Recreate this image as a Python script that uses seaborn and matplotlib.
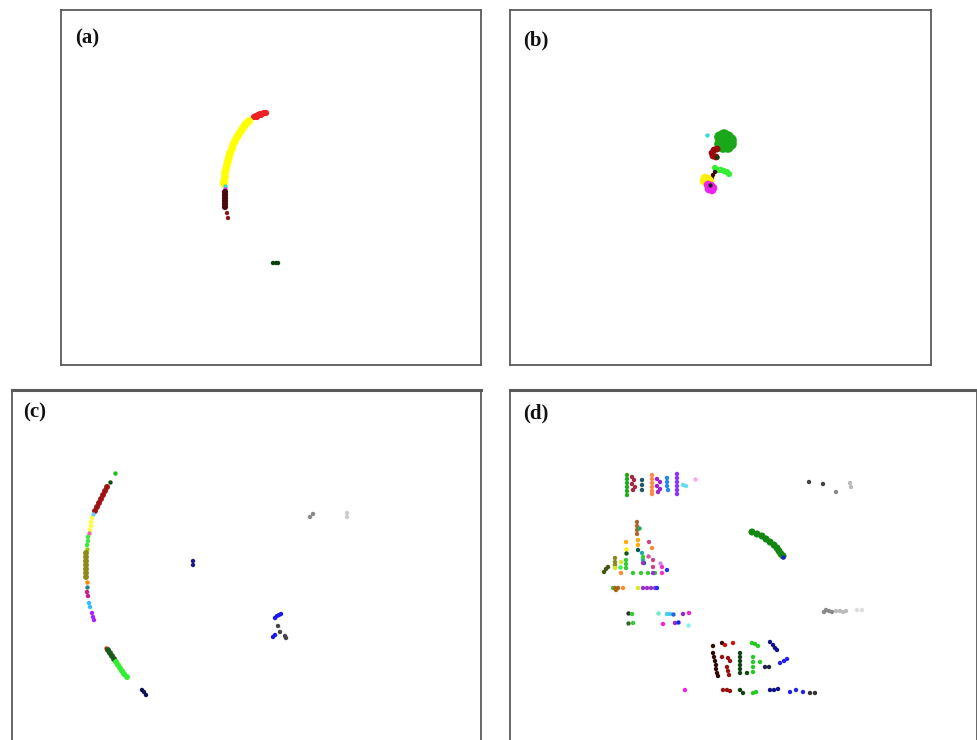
import matplotlib
matplotlib.use("Agg")
import matplotlib.pyplot as plt
import pandas as pd
import seaborn as sns

sns.set_theme(style="white")
plt.rcParams["font.family"] = ["Liberation Serif", "DejaVu Serif"]

# ---------------- panel (a) ----------------
a_group = (["red"] * 9 + ["yellow"] * 19 + ["cyan", "magenta"] + ["darkbrown"] * 6
           + ["brownred"] * 2 + ["darkgreen"] * 3)
a_x = [254, 256, 258, 260, 262, 264, 266, 257, 261,
       249, 247, 245, 243, 241, 239, 237, 235, 233, 232, 230, 229, 228, 227, 226, 225, 225, 224, 224,
       225, 225,
       225, 225, 225, 225, 225, 225,
       227, 228,
       273, 276, 278]
a_y = [117, 116, 115, 114, 114, 113, 113, 117, 115,
       121, 123, 125, 128, 131, 134, 137, 141, 145, 149, 153, 157, 161, 165, 169, 173, 177, 181, 184,
       186, 189,
       192, 195, 198, 201, 204, 207,
       213, 218,
       263, 263, 263]
a_palette = {"red": "#ee2222", "yellow": "#ffff00", "cyan": "#33dddd", "magenta": "#ee22ee",
             "darkbrown": "#4b0a0a", "brownred": "#8b1a1a", "darkgreen": "#0a400a"}

# ---------------- panel (b) ----------------
b_group = (["cyan"] + ["green"] * 14 + ["darkred"] * 5 + ["darkgreen"] + ["lime"] * 6
           + ["dark"] * 3 + ["yellow"] * 5 + ["magenta"] * 5 + ["black"])
b_x = [707,
       725, 720, 724, 728, 731, 731, 728, 723, 720, 725, 722, 728, 725, 725,
       717, 714, 712, 713, 716,
       717,
       715, 718, 721, 724, 727, 729,
       715, 713, 712,
       705, 708, 704, 707, 710,
       708, 711, 713, 709, 712,
       710]
b_y = [135,
       142, 137, 135, 137, 140, 144, 147, 147, 144, 141, 141, 142, 138, 145,
       149, 150, 153, 156, 157,
       157,
       168, 170, 170, 171, 172, 174,
       172, 175, 178,
       178, 179, 181, 182, 181,
       185, 186, 188, 189, 190,
       185]
b_palette = {"cyan": "#33dddd", "green": "#1aa81a", "darkred": "#9b0a0a", "darkgreen": "#0a400a",
             "lime": "#33ee33", "dark": "#3a0a0a", "yellow": "#ffee00", "magenta": "#ee22ee",
             "black": "#222222"}

# ---------------- panel (c) ----------------
c_group = (["green"] + ["darkgreen"] + ["darkred"] * 7 + ["skyblue"] + ["yellow"] * 4 + ["pink"]
           + ["lime"] * 3 + ["yellowgreen"] + ["olive"] * 7 + ["orange"] + ["teal"]
           + ["magenta"] * 2 + ["lightblue"] * 2 + ["violet"] * 3 + ["red"]
           + ["forest"] * 4 + ["lime2"] * 6 + ["navy"] * 3 + ["gray"] * 2 + ["lightgray"] * 2
           + ["navy2"] * 2 + ["blue"] * 6 + ["darkgray"] * 4)
c_x = [115, 110,
       107, 105, 103, 101, 99, 97, 95,
       93,
       92, 91, 91, 90,
       89,
       88, 88, 87,
       87,
       86, 86, 86, 86, 86, 86, 86,
       87, 87,
       87, 88,
       89, 90,
       92, 93, 94,
       106,
       108, 110, 112, 114,
       116, 118, 120, 122, 124, 127,
       142, 144, 146,
       310, 313,
       347, 347,
       193, 193,
       275, 277, 279, 281, 273, 275,
       278, 280, 285, 286]
c_y = [473, 482,
       487, 491, 495, 499, 503, 507, 511,
       514,
       518, 522, 526, 530,
       533,
       537, 541, 545,
       549,
       553, 557, 561, 565, 569, 573, 577,
       582, 587,
       592, 596,
       603, 607,
       613, 617, 620,
       648,
       650, 653, 656, 659,
       662, 665, 668, 671, 674, 677,
       690, 692, 695,
       517, 514,
       513, 517,
       561, 565,
       618, 616, 615, 614, 637, 635,
       626, 632, 636, 638]
c_palette = {"green": "#22bb22", "darkgreen": "#0a500a", "darkred": "#a01010", "skyblue": "#66ccff",
             "yellow": "#ffff33", "pink": "#ee66aa", "lime": "#33ee33", "yellowgreen": "#99cc00",
             "olive": "#8b8b1a", "orange": "#ff8800", "teal": "#228888", "magenta": "#cc1a88",
             "lightblue": "#33bbff", "violet": "#aa22ff", "red": "#ee2222", "forest": "#1a5a1a",
             "lime2": "#33ee33", "navy": "#111155", "gray": "#888888", "lightgray": "#cccccc",
             "navy2": "#1a1a88", "blue": "#1a1aee", "darkgray": "#444444"}

# ---------------- panel (d) ----------------
d_points = [
    # cluster, x, y
    ("g1", 627, 475), ("g1", 627, 479), ("g1", 627, 483), ("g1", 627, 487), ("g1", 627, 491), ("g1", 627, 495),
    ("g2", 632, 477), ("g2", 634, 480), ("g2", 632, 484), ("g2", 635, 487), ("g2", 633, 490),
    ("g3", 642, 480), ("g3", 642, 485), ("g3", 642, 490),
    ("g4", 652, 475), ("g4", 652, 479), ("g4", 652, 483), ("g4", 652, 487), ("g4", 652, 491), ("g4", 652, 494),
    ("g5", 657, 479), ("g5", 660, 482), ("g5", 657, 486), ("g5", 660, 489), ("g5", 658, 492),
    ("g6", 667, 478), ("g6", 667, 482), ("g6", 667, 486), ("g6", 668, 490),
    ("g7", 677, 474), ("g7", 677, 478), ("g7", 677, 482), ("g7", 677, 486), ("g7", 677, 490), ("g7", 677, 494),
    ("g8", 683, 485), ("g8", 686, 486),
    ("g9", 695, 479),
    ("t1", 637, 522), ("t1", 637, 526), ("t1", 637, 530), ("t1", 637, 534),
    ("t2", 639, 528),
    ("t3", 626, 542), ("t3", 638, 540), ("t3", 638, 545),
    ("t4", 649, 542), ("t4", 653, 560), ("t4", 653, 567),
    ("t5", 626, 549),
    ("t6", 638, 550), ("t6", 644, 563),
    ("t7", 652, 548), ("t7", 621, 573), ("t7", 623, 588),
    ("t8", 626, 553),
    ("t9", 642, 553), ("t9", 643, 560),
    ("t10", 643, 557), ("t10", 626, 560), ("t10", 626, 564), ("t10", 626, 568), ("t10", 633, 573),
    ("t10", 641, 573), ("t10", 648, 573), ("t10", 655, 573), ("t10", 613, 588),
    ("t11", 648, 556),
    ("t12", 615, 558), ("t12", 615, 562), ("t12", 615, 565),
    ("t13", 621, 562), ("t13", 615, 568), ("t13", 638, 588),
    ("t14", 643, 563), ("t14", 653, 573), ("t14", 643, 588), ("t14", 647, 588), ("t14", 651, 588), ("t14", 655, 588),
    ("t15", 660, 563),
    ("t16", 662, 567), ("t16", 662, 573),
    ("t17", 604, 572), ("t17", 606, 569), ("t17", 608, 567),
    ("t18", 620, 567),
    ("t19", 667, 570), ("t19", 657, 588),
    ("t20", 615, 588), ("t20", 618, 588), ("t20", 616, 590),
    ("b1", 628, 613),
    ("b2", 632, 614), ("b2", 633, 623),
    ("b3", 628, 623),
    ("b4", 658, 613),
    ("b5", 667, 614), ("b5", 670, 614),
    ("b6", 673, 614),
    ("b7", 683, 614), ("b7", 675, 623),
    ("b8", 689, 613), ("b8", 663, 624), ("b8", 685, 690),
    ("b9", 678, 622),
    ("b10", 688, 625),
    ("arc", 752, 532), ("arc", 757, 534), ("arc", 762, 536), ("arc", 766, 539), ("arc", 770, 542),
    ("arc", 774, 545), ("arc", 777, 548), ("arc", 779, 551), ("arc", 781, 554), ("arc", 783, 556),
    ("arcend", 783, 557),
    ("gr1", 809, 482), ("gr1", 823, 484),
    ("gr2", 836, 492), ("gr2", 824, 612), ("gr2", 826, 610), ("gr2", 829, 611), ("gr2", 832, 612),
    ("gr3", 850, 483), ("gr3", 851, 487), ("gr3", 836, 611), ("gr3", 840, 611), ("gr3", 843, 612), ("gr3", 846, 611),
    ("gr4", 857, 610), ("gr4", 862, 610),
    ("r1", 713, 646), ("r1", 722, 643), ("r1", 713, 653), ("r1", 714, 657), ("r1", 715, 661),
    ("r1", 716, 665), ("r1", 716, 669), ("r1", 717, 673), ("r1", 718, 676),
    ("r2", 725, 645), ("r2", 733, 643),
    ("r3", 722, 657), ("r3", 728, 658), ("r3", 730, 661), ("r3", 727, 667), ("r3", 728, 671),
    ("r3", 729, 675), ("r3", 723, 690), ("r3", 727, 690), ("r3", 730, 691),
    ("r4", 740, 653), ("r4", 740, 657), ("r4", 740, 661), ("r4", 740, 665), ("r4", 740, 669),
    ("r4", 740, 673), ("r4", 747, 673), ("r4", 740, 690), ("r4", 743, 693),
    ("r5", 752, 643), ("r5", 755, 644), ("r5", 758, 646), ("r5", 753, 657), ("r5", 753, 662),
    ("r5", 753, 667), ("r5", 753, 672), ("r5", 760, 662), ("r5", 753, 693), ("r5", 756, 692),
    ("r6", 770, 642), ("r6", 773, 645), ("r6", 775, 648), ("r6", 777, 650), ("r6", 770, 690),
    ("r6", 774, 690), ("r6", 778, 689),
    ("r7", 765, 667), ("r7", 769, 667),
    ("r8", 780, 663), ("r8", 784, 661), ("r8", 787, 659), ("r8", 790, 692), ("r8", 796, 690), ("r8", 803, 692),
    ("r9", 810, 693), ("r9", 815, 693),
]
d_group = [p[0] for p in d_points]
d_x = [p[1] for p in d_points]
d_y = [p[2] for p in d_points]
d_palette = {"g1": "#22aa22", "g2": "#aa2244", "g3": "#225566", "g4": "#ff8844", "g5": "#9922cc",
             "g6": "#2288ee", "g7": "#8833ff", "g8": "#66ddee", "g9": "#ffaaee",
             "t1": "#aa6633", "t2": "#22aa55", "t3": "#ffaa00", "t4": "#cc4488", "t5": "#ffee00",
             "t6": "#115555", "t7": "#ff8833", "t8": "#115511", "t9": "#22aaaa", "t10": "#33cc33",
             "t11": "#dd5599", "t12": "#888822", "t13": "#ccee22", "t14": "#9933cc", "t15": "#cc88ee",
             "t16": "#ee33cc", "t17": "#445511", "t18": "#44ee44", "t19": "#2233ee", "t20": "#aa6611",
             "b1": "#333333", "b2": "#33cc33", "b3": "#336633", "b4": "#66eecc", "b5": "#44ccee",
             "b6": "#2266dd", "b7": "#9922dd", "b8": "#ee22dd", "b9": "#2222ee", "b10": "#88eeee",
             "arc": "#128812", "arcend": "#2222cc",
             "gr1": "#444444", "gr2": "#888888", "gr3": "#bbbbbb", "gr4": "#dddddd",
             "r1": "#330808", "r2": "#cc1111", "r3": "#991111", "r4": "#114411", "r5": "#22cc22",
             "r6": "#111188", "r7": "#222244", "r8": "#2222ee", "r9": "#333333"}

panel_labels = ["(a)", "(b)", "(c)", "(d)"]

# marker sizes for the thicker strokes, everything else uses the default
a_sizes = {"yellow": 32, "red": 20, "darkbrown": 20}
b_sizes = {"green": 70, "darkred": 24, "lime": 20, "yellow": 38, "magenta": 38}
c_sizes = {"darkred": 18, "olive": 18, "lime2": 18, "forest": 18}
d_sizes = {"arc": 26}

W, H = 978, 740
fig = plt.figure(figsize=(W / 100, H / 100), dpi=100)

# panel frames in pixel units: left, top, right, bottom
frames = [(61, 10, 481, 365), (510, 10, 931, 365), (12, 390, 481, 745), (510, 390, 977, 745)]
label_pos = [(75, 38), (523, 40), (23, 412), (523, 413)]
datasets = [(a_group, a_x, a_y, a_palette, a_sizes),
            (b_group, b_x, b_y, b_palette, b_sizes),
            (c_group, c_x, c_y, c_palette, c_sizes),
            (d_group, d_x, d_y, d_palette, d_sizes)]

for i, ((l, t, r, b), (grp, xs, ys, pal, sizes)) in enumerate(zip(frames, datasets)):
    ax = fig.add_axes([l / W, 1 - b / H, (r - l) / W, (b - t) / H])
    df = pd.DataFrame({"cluster": grp, "x": xs, "y": ys})
    for name, sub in df.groupby("cluster", sort=False):
        sns.scatterplot(data=sub, x="x", y="y", hue="cluster", palette=pal, ax=ax,
                        s=sizes.get(name, 10), marker="o", linewidth=0, legend=False)
    ax.set_xlim(l, r)
    ax.set_ylim(b, t)
    ax.set_xticks([])
    ax.set_yticks([])
    ax.set_xlabel("")
    ax.set_ylabel("")
    for side, sp in ax.spines.items():
        sp.set_color("#5a5a5a")
        sp.set_linewidth(1.3)
    if i >= 2:
        ax.spines["top"].set_linewidth(2.2)
        ax.spines["bottom"].set_visible(False)
    ax.text(label_pos[i][0], label_pos[i][1], panel_labels[i], ha="left", va="center",
            fontsize=15, fontweight="bold", color="#111111")

fig.savefig("out.png", dpi=100, facecolor="white")
